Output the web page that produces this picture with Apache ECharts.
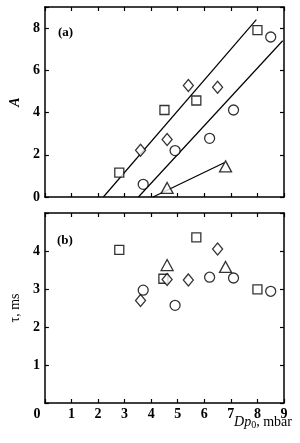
<!DOCTYPE html>
<html><head><meta charset="utf-8">
<script src="https://cdn.jsdelivr.net/npm/echarts@6/dist/echarts.min.js"></script>
<style>html,body{margin:0;padding:0;background:#fff}#c{width:300px;height:443px}</style>
</head><body><div id="c"></div>
<script>
// x ticks (Dp0, mbar)
const xTickLabels = ['0','1','2','3','4','5','6','7','8','9'];
// Panel (a): A
const aSquares = [[2.8,1.15],[4.5,4.12],[5.7,4.57],[8.0,7.9]];
const aDiamonds = [[3.6,2.22],[4.6,2.72],[5.4,5.28],[6.5,5.2]];
const aCircles = [[3.7,0.6],[4.9,2.2],[6.2,2.78],[7.1,4.12],[8.5,7.58]];
const aTriangles = [[4.6,0.43],[6.8,1.45]];
const fitLine1 = [[2.2,0],[7.96,8.4]];
const fitLine2 = [[3.52,0],[8.95,7.4]];
const fitLine3 = [[4.07,0],[6.75,1.62]];
// Panel (b): tau, ms
const tSquares = [[2.8,4.03],[4.46,3.27],[5.7,4.36],[8.0,2.99]];
const tDiamonds = [[3.6,2.7],[4.6,3.25],[5.4,3.24],[6.5,4.05]];
const tCircles = [[3.7,2.97],[4.9,2.57],[6.2,3.31],[7.1,3.29],[8.5,2.94]];
const tTriangles = [[4.6,3.63],[6.8,3.58]];

const font = '"Liberation Serif","DejaVu Serif",serif';
const black = '#000';

function xAx(grid, pos, labels){
  return {type:'value', gridIndex:grid, position:pos, min:0, max:9, interval:1,
    axisLine:{show:true, onZero:false, lineStyle:{color:black,width:1.5}},
    axisTick:{show:true, inside:true, length:4, lineStyle:{color:black,width:1.2}},
    splitLine:{show:false},
    axisLabel:{show:labels, margin:4, color:black, fontFamily:font, fontWeight:'bold', fontSize:14,
      formatter:function(v){ const s = xTickLabels[Math.round(v)]; return v===0 ? '{z|'+s+'}' : s; },
      rich:{z:{padding:[0,16,0,0], color:black, fontFamily:font, fontWeight:'bold', fontSize:14}}}
  };
}
function yAx(grid, pos, max, interval, labels, hide, name){
  return {type:'value', gridIndex:grid, position:pos, min:0, max:max, interval:interval,
    name:name||'', nameLocation:'middle', nameGap:18,
    nameTextStyle:{color:black, fontFamily:font, fontSize:14, fontStyle: grid===0?'italic':'normal', fontWeight: grid===0?'bold':'normal'},
    axisLine:{show:true, onZero:false, lineStyle:{color:black,width:1.5}},
    axisTick:{show:true, inside:true, length:4, lineStyle:{color:black,width:1.2}},
    splitLine:{show:false},
    axisLabel:{show:labels, margin:5, color:black, fontFamily:font, fontWeight:'bold', fontSize:14,
      formatter:function(v){ return hide.indexOf(v)>=0 ? '' : String(v); }}
  };
}
function sc(data, sym, size, xi, yi){
  return {type:'scatter', data:data, symbol:sym, symbolSize:size, xAxisIndex:xi, yAxisIndex:yi,
    itemStyle:{color:'#fff', borderColor:black, borderWidth:1.3}, z:5};
}
function ln(data){
  return {type:'line', data:data, symbol:'none', xAxisIndex:0, yAxisIndex:0,
    lineStyle:{color:black, width:1.2}, z:3, silent:true};
}

const chart = echarts.init(document.getElementById('c'), null, {renderer:'canvas'});
chart.setOption({
  backgroundColor:'#fff',
  animation:false,
  grid:[
    {left:35, right:16, top:7, height:190},
    {left:35, right:16, top:213, height:190}
  ],
  xAxis:[xAx(0,'bottom',false), xAx(0,'top',false), xAx(1,'bottom',true), xAx(1,'top',false)],
  yAxis:[yAx(0,'left',9,2,true,[9],'A'), yAx(0,'right',9,2,false,[]),
         yAx(1,'left',5,1,true,[0,5],'τ, ms'), yAx(1,'right',5,1,false,[])],
  graphic:[
    {type:'text', left:58, top:26, style:{text:'(a)', fill:black, font:'bold 13px '+font}},
    {type:'text', left:57, top:234, style:{text:'(b)', fill:black, font:'bold 13px '+font}},
    {type:'text', right:8, top:415, style:{
      text:'{i|Dp}{s|0}{n|, mbar}',
      rich:{i:{fill:black, fontFamily:font, fontStyle:'italic', fontSize:14},
            s:{fill:black, fontFamily:font, fontSize:10, padding:[6,0,0,0]},
            n:{fill:black, fontFamily:font, fontSize:14}}}}
  ],
  series:[
    ln(fitLine1), ln(fitLine2), ln(fitLine3),
    sc(aSquares,'rect',9,0,0),
    sc(aDiamonds,'diamond',[10,12],0,0),
    sc(aCircles,'circle',10,0,0),
    sc(aTriangles,'triangle',[12,11],0,0),
    sc(tSquares,'rect',9,2,2),
    sc(tDiamonds,'diamond',[10,12],2,2),
    sc(tCircles,'circle',10,2,2),
    sc(tTriangles,'triangle',[12,11],2,2)
  ]
});
</script></body></html>
